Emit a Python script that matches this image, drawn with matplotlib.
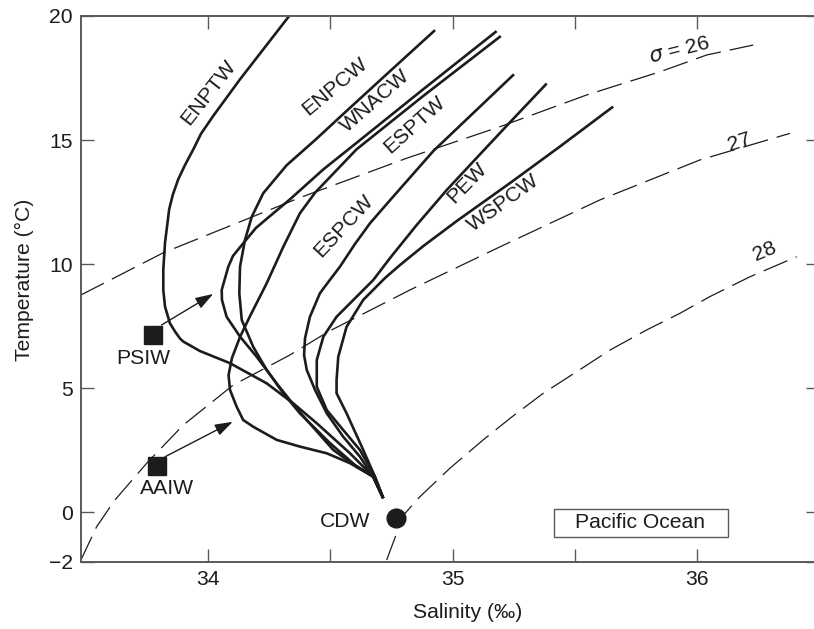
import matplotlib
matplotlib.use("Agg")
import matplotlib.pyplot as plt
from matplotlib.patches import Rectangle
from matplotlib.ticker import FixedLocator

# water mass T-S curves (salinity in permil, temperature in deg C)
enptw_s = [34.331, 34.130, 34.020, 33.970, 33.939, 33.905, 33.877, 33.855, 33.840, 33.823,
           33.816, 33.816, 33.823, 33.843, 33.865, 33.884, 33.898, 33.966, 34.089, 34.239,
           34.348, 34.444, 34.580, 34.675, 34.716]
enptw_t = [20.0, 17.45, 15.97, 15.25, 14.63, 14.00, 13.42, 12.80, 12.21, 10.86,
           9.79, 8.96, 8.29, 7.62, 7.27, 7.01, 6.88, 6.50, 6.01, 5.20,
           4.39, 3.59, 2.38, 1.44, 0.57]

enpcw_s = [34.928, 34.744, 34.539, 34.437, 34.321, 34.225, 34.178, 34.150, 34.130, 34.127,
           34.137, 34.184, 34.239, 34.307, 34.375, 34.498, 34.600, 34.675, 34.716]
enpcw_t = [19.43, 17.78, 15.93, 15.00, 13.99, 12.86, 11.91, 10.97, 9.90, 8.83,
           7.75, 6.67, 5.74, 4.80, 3.99, 2.79, 1.91, 1.44, 0.57]

wnacw_s = [35.180, 34.880, 34.607, 34.471, 34.334, 34.266, 34.195, 34.143, 34.101, 34.082,
           34.055, 34.056, 34.075, 34.130, 34.198, 34.285, 34.367, 34.512, 34.607, 34.675, 34.716]
wnacw_t = [19.39, 17.05, 14.89, 13.82, 12.61, 12.05, 11.46, 10.84, 10.33, 9.90,
           8.96, 8.56, 7.88, 7.08, 6.27, 5.13, 4.12, 2.51, 1.84, 1.44, 0.57]

esptw_s = [35.197, 34.880, 34.607, 34.437, 34.375, 34.307, 34.239, 34.171, 34.130, 34.097,
           34.083, 34.089, 34.116, 34.143, 34.184, 34.280, 34.375, 34.485, 34.580, 34.675, 34.716]
esptw_t = [19.19, 16.78, 14.63, 12.88, 12.05, 10.70, 9.23, 7.91, 7.07, 6.22,
           5.53, 4.93, 4.26, 3.72, 3.45, 2.92, 2.65, 2.38, 1.98, 1.44, 0.57]

espcw_s = [35.251, 34.921, 34.744, 34.662, 34.600, 34.539, 34.491, 34.457, 34.416, 34.396,
           34.392, 34.403, 34.437, 34.485, 34.552, 34.621, 34.675, 34.716]
espcw_t = [17.65, 14.56, 12.58, 11.65, 10.81, 9.90, 9.28, 8.83, 7.88, 7.02,
           6.34, 5.74, 4.93, 3.99, 3.05, 2.24, 1.44, 0.57]

pew_s = [35.385, 35.234, 35.098, 34.976, 34.853, 34.744, 34.675, 34.607, 34.525, 34.471,
         34.444, 34.444, 34.485, 34.552, 34.621, 34.682, 34.716]
pew_t = [17.28, 15.71, 14.28, 12.99, 11.58, 10.25, 9.36, 8.69, 7.88, 7.08,
         6.14, 5.06, 4.12, 3.32, 2.51, 1.44, 0.57]

wspcw_s = [35.657, 35.439, 35.235, 35.017, 34.880, 34.785, 34.723, 34.634, 34.566, 34.532,
           34.525, 34.525, 34.566, 34.628, 34.682, 34.716]
wspcw_t = [16.35, 14.74, 13.27, 11.74, 10.73, 9.97, 9.44, 8.56, 7.48, 6.27,
           5.33, 4.80, 3.99, 2.65, 1.44, 0.57]

# sigma-t isopycnals
sig26_s = [33.479, 33.816, 34.375, 34.812, 35.194, 35.549, 35.848, 36.040, 36.230]
sig26_t = [8.76, 10.46, 12.68, 14.27, 15.54, 16.82, 17.75, 18.43, 18.83]

sig27_s = [33.479, 33.543, 33.618, 33.748, 33.898, 34.102, 34.334, 34.491, 34.825,
           35.194, 35.603, 36.012, 36.380]
sig27_t = [-1.92, -0.58, 0.50, 1.98, 3.52, 5.13, 6.34, 7.28, 8.96,
           10.70, 12.59, 14.20, 15.27]

sig28_s = [34.730, 34.771, 34.805, 34.866, 34.989, 35.125, 35.235, 35.371, 35.508,
           35.644, 35.794, 35.930, 36.052, 36.216, 36.408]
sig28_t = [-1.92, -0.84, -0.04, 0.63, 1.78, 2.92, 3.79, 4.80, 5.67,
           6.54, 7.35, 8.02, 8.69, 9.49, 10.30]

# source water types
psiw_st = (33.775, 7.15)
aaiw_st = (33.792, 1.88)
cdw_st = (34.767, -0.24)

x_ticks = [34, 35, 36]
y_ticks = [-2, 0, 5, 10, 15, 20]

plt.rcParams['font.family'] = ['Liberation Sans', 'DejaVu Sans']
plt.rcParams['font.size'] = 15.2
plt.rcParams['lines.scale_dashes'] = False

ink = '#1c1c1c'
frame = '#5a5a5a'

fig = plt.figure(figsize=(8.14, 6.29), dpi=100)
ax = fig.add_axes([0.09975, 0.10652, 0.90663, 0.86805])

curves = [(enptw_s, enptw_t), (enpcw_s, enpcw_t), (wnacw_s, wnacw_t), (esptw_s, esptw_t),
          (espcw_s, espcw_t), (pew_s, pew_t), (wspcw_s, wspcw_t)]
for s, t in curves:
    ax.plot(s, t, color=ink, lw=1.9, solid_capstyle='butt', solid_joinstyle='round')

for s, t in [(sig26_s, sig26_t), (sig27_s, sig27_t), (sig28_s, sig28_t)]:
    ax.plot(s, t, color=ink, lw=0.9, linestyle=(0, (18.5, 6.5)))

# curve labels
names = [('ENPTW', 34.000, 16.91, 52), ('ENPCW', 34.518, 17.18, 40),
         ('WNACW', 34.682, 16.57, 41), ('ESPTW', 34.846, 15.63, 42),
         ('ESPCW', 34.553, 11.54, 47), ('PEW', 35.057, 13.28, 46),
         ('WSPCW', 35.207, 12.45, 36)]
for name, x, y, rot in names:
    ax.text(x, y, name, rotation=rot, rotation_mode='anchor', ha='center', va='center',
            color=ink)

ax.text(35.928, 18.63, r'$\sigma$ = 26', rotation=14, rotation_mode='anchor',
        ha='center', va='center', color=ink)
ax.text(36.176, 14.93, '27', rotation=18, rotation_mode='anchor', ha='center', va='center', color=ink)
ax.text(36.278, 10.50, '28', rotation=23, rotation_mode='anchor', ha='center', va='center', color=ink)

# source points and spreading arrows
ax.plot(*psiw_st, marker='s', ms=13, color=ink, zorder=5)
ax.plot(*aaiw_st, marker='s', ms=13, color=ink, zorder=5)
ax.plot(*cdw_st, marker='o', ms=13.5, color=ink, zorder=5)
ax.text(33.734, 6.21, 'PSIW', ha='center', va='center', color=ink)
ax.text(33.832, 0.97, 'AAIW', ha='center', va='center', color=ink)
ax.text(34.559, -0.38, 'CDW', ha='center', va='center', color=ink)

arrow = dict(arrowstyle='-|>,head_length=0.9,head_width=0.3', color=ink, lw=1.0,
             mutation_scale=12, shrinkA=0, shrinkB=0)
ax.annotate('', xy=(34.020, 8.80), xytext=(33.809, 7.55), arrowprops=arrow)
ax.annotate('', xy=(34.100, 3.65), xytext=(33.823, 2.24), arrowprops=arrow)

# region box
ax.add_patch(Rectangle((0.641, 0.0452), 0.2358, 0.0518, transform=ax.transAxes,
                       fill=False, lw=1.0, edgecolor=frame))
ax.text(0.757, 0.0715, 'Pacific Ocean', transform=ax.transAxes, ha='center', va='center',
        color=ink)

ax.set_xlim(33.48, 36.5)
ax.set_ylim(-2, 20)
ax.set_xticks(x_ticks)
ax.xaxis.set_minor_locator(FixedLocator([34.5, 35.5]))
ax.set_yticks(y_ticks)
ax.tick_params(which='both', direction='in', length=9.5, width=1.0, color=frame,
               top=True, right=True, labelcolor=ink, pad=6)

for side in ['left', 'bottom', 'top']:
    ax.spines[side].set_color(frame)
    ax.spines[side].set_linewidth(1.4)
ax.spines['right'].set_visible(False)

ax.set_xlabel('Salinity (‰)', color=ink)
ax.set_ylabel('Temperature (°C)', color=ink)
ax.xaxis.set_label_coords(0.523, -0.076)
ax.yaxis.set_label_coords(-0.064, 0.516)

fig.savefig('out.png', dpi=100)
